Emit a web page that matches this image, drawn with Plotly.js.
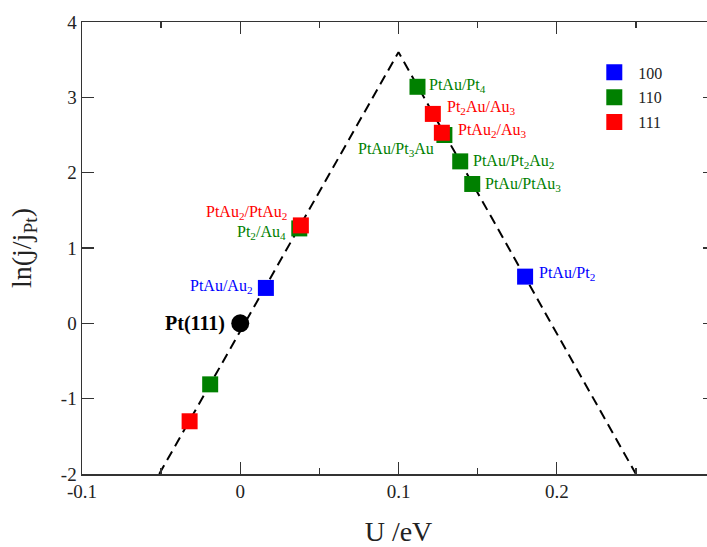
<!DOCTYPE html>
<html>
<head>
<meta charset="utf-8">
<script src="https://cdn.plot.ly/plotly-3.0.1.min.js"></script>
<style>
html,body{margin:0;padding:0;overflow:hidden;background:#fff;}
#chart{width:720px;height:547px;}
</style>
</head>
<body>
<div id="chart"></div>
<script>
// ---- data ----
var volcanoX = [-0.0512, 0.1, 0.25];
var volcanoY = [-2, 3.6, -2];

var ptX = [0];
var ptY = [0];
var ptLabels = ["<b>Pt(111)</b>"];

var s100X = [0.0162, 0.180];
var s100Y = [0.47, 0.62];
var s100Labels = ["PtAu/Au<sub>2</sub>", "PtAu/Pt<sub>2</sub>"];

var s110X = [-0.019, 0.0373, 0.112, 0.129, 0.139, 0.1466];
var s110Y = [-0.81, 1.26, 3.14, 2.50, 2.15, 1.85];
var s110Labels = ["", "Pt<sub>2</sub>/Au<sub>4</sub>", "PtAu/Pt<sub>4</sub>", "PtAu/Pt<sub>3</sub>Au", "PtAu/Pt<sub>2</sub>Au<sub>2</sub>", "PtAu/PtAu<sub>3</sub>"];

var s111X = [-0.032, 0.0383, 0.1217, 0.1274];
var s111Y = [-1.30, 1.30, 2.78, 2.53];
var s111Labels = ["", "PtAu<sub>2</sub>/PtAu<sub>2</sub>", "Pt<sub>2</sub>Au/Au<sub>3</sub>", "PtAu<sub>2</sub>/Au<sub>3</sub>"];

var xTickVals = [-0.1, 0, 0.1, 0.2, 0.3];
var xTickText = ["-0.1", "0", "0.1", "0.2", "0.3"];
var yTickVals = [-2, -1, 0, 1, 2, 3, 4];
var yTickText = ["-2", "-1", "0", "1", "2", "3", "4"];

// ---- label placement (layout only) ----
var ptPlace = [{a:"right", dx:-13, dy:0}];
var s100Place = [{a:"right", dx:-11, dy:1}, {a:"left", dx:12, dy:3}];
var s110Place = [null, {a:"right", dx:-11, dy:-4}, {a:"left", dx:10, dy:1},
                 {a:"right", dx:-8, dy:-14}, {a:"left", dx:11, dy:0}, {a:"left", dx:11, dy:-1}];
var s111Place = [null, {a:"right", dx:-12, dy:13}, {a:"left", dx:12, dy:6}, {a:"left", dx:14, dy:2}];

var FONT = "Liberation Serif, Times New Roman, serif";
var BLUE = "#0000ff", GREEN = "#008000", RED = "#ff0000";

function makeAnnots(xs, ys, labels, place, color, size) {
  var out = [];
  for (var i = 0; i < xs.length; i++) {
    if (!labels[i]) continue;
    var p = place[i];
    out.push({
      x: xs[i], y: ys[i], xref: "x", yref: "y",
      text: labels[i], showarrow: false,
      xanchor: p.a, yanchor: "middle",
      xshift: p.dx, yshift: p.dy,
      font: {family: FONT, size: size, color: color}
    });
  }
  return out;
}

var annotations = []
  .concat(makeAnnots(ptX, ptY, ptLabels, ptPlace, "#000000", 20))
  .concat(makeAnnots(s100X, s100Y, s100Labels, s100Place, BLUE, 16))
  .concat(makeAnnots(s110X, s110Y, s110Labels, s110Place, GREEN, 16))
  .concat(makeAnnots(s111X, s111Y, s111Labels, s111Place, RED, 16));

var traces = [
  {x: volcanoX, y: volcanoY, mode: "lines", showlegend: false, hoverinfo: "skip",
   line: {color: "#000", width: 2, dash: "10px,6px"}},
  {x: s100X, y: s100Y, mode: "markers", name: "100", legendgroup: "a",
   marker: {symbol: "square", size: 16, color: BLUE}},
  {x: s110X, y: s110Y, mode: "markers", name: "110", legendgroup: "b",
   marker: {symbol: "square", size: 16, color: GREEN}},
  {x: s111X, y: s111Y, mode: "markers", name: "111", legendgroup: "c",
   marker: {symbol: "square", size: 16, color: RED}},
  {x: ptX, y: ptY, mode: "markers", showlegend: false,
   marker: {symbol: "circle", size: 18, color: "#000"}}
];

var layout = {
  width: 720, height: 547,
  margin: {l: 82, r: 5, t: 22, b: 73},
  paper_bgcolor: "#fff", plot_bgcolor: "#fff",
  font: {family: FONT, color: "#000"},
  showlegend: true,
  legend: {x: 0.803, y: 0.926, xanchor: "left", yanchor: "top",
           font: {family: FONT, size: 16, color: "#222"},
           tracegroupgap: 1, itemwidth: 38, bgcolor: "rgba(0,0,0,0)"},
  xaxis: {
    range: [-0.1, 0.3], tickmode: "array", tickvals: xTickVals, ticktext: xTickText,
    ticks: "inside", ticklen: 12, tickwidth: 1.3, tickcolor: "#333",
    minor: {dtick: 0.05, tick0: 0, ticks: "inside", ticklen: 6, tickwidth: 1.3, tickcolor: "#333", showgrid: false},
    showline: true, linecolor: "#333", linewidth: 1.5, mirror: "ticks",
    showgrid: false, zeroline: false,
    tickfont: {family: FONT, size: 19, color: "#222"},
    title: {text: "U /eV", font: {family: FONT, size: 28, color: "#222"}, standoff: 24}
  },
  yaxis: {
    range: [-2, 4], tickmode: "array", tickvals: yTickVals, ticktext: yTickText,
    ticks: "inside", ticklen: 12, tickwidth: 1.3, tickcolor: "#333",
    showline: true, linecolor: "#333", linewidth: 1.5, mirror: "ticks",
    showgrid: false, zeroline: false,
    tickfont: {family: FONT, size: 19, color: "#222"},
    title: {text: "ln(j/j<sub>Pt</sub>)", font: {family: FONT, size: 28, color: "#222"}, standoff: 21}
  },
  annotations: annotations
};

Plotly.newPlot("chart", traces, layout, {displayModeBar: false, staticPlot: true});
</script>
</body>
</html>
